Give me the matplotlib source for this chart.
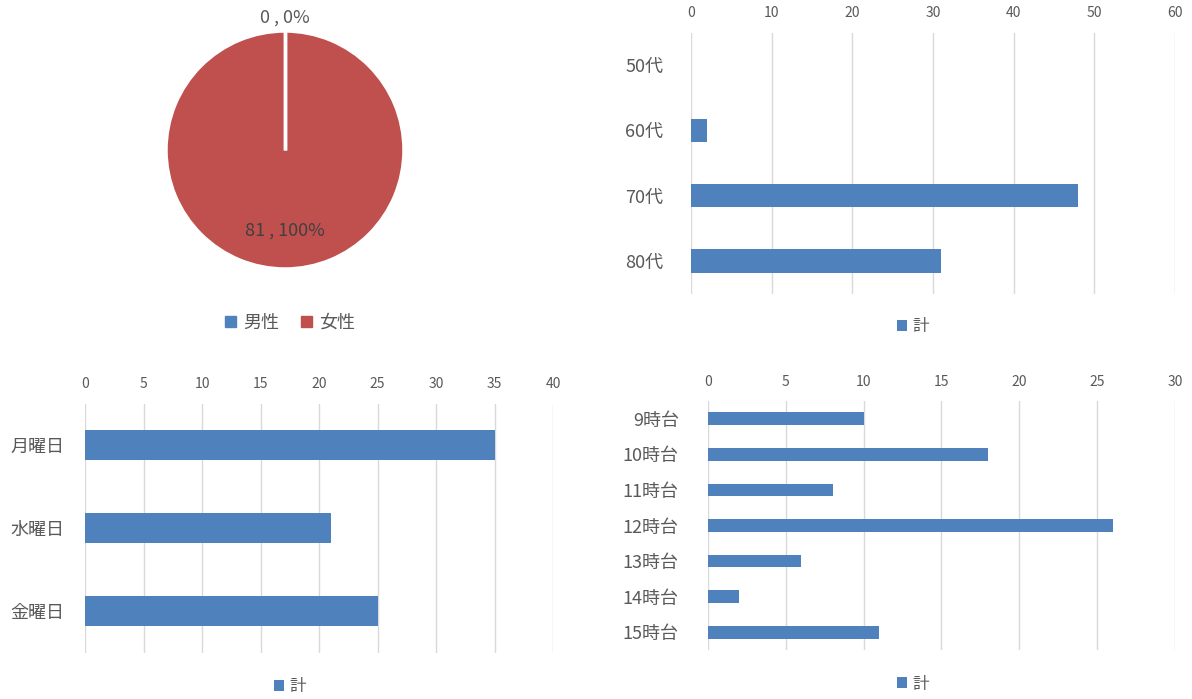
import numpy as np
import matplotlib.pyplot as plt

plt.rcParams['font.family'] = ['Noto Sans CJK JP', 'DejaVu Sans']

# data
gender_labels = ['男性', '女性']
gender_counts = [0, 81]

age_labels = ['50代', '60代', '70代', '80代']
age_counts = [0, 2, 48, 31]

day_labels = ['月曜日', '水曜日', '金曜日']
day_counts = [35, 21, 25]

hour_labels = ['9時台', '10時台', '11時台', '12時台', '13時台', '14時台', '15時台']
hour_counts = [10, 18, 8, 26, 6, 2, 11]

BLUE = '#4F81BD'
RED = '#C0504D'
GRID = '#D9D9D9'
TXT = '#595959'

fig = plt.figure(figsize=(11.92, 6.99), dpi=100)

#pie
start = 90
ax = fig.add_axes([166/1192, 1-269/699, 238/1192, 238/699])
ax.pie(gender_counts, colors=[BLUE, RED], startangle=start, counterclock=False,
       radius=1, wedgeprops=dict(edgecolor='white', linewidth=2.5))
# slice borders (a 360 deg wedge has no visible radial edge)
total = sum(gender_counts)
ang = start
for v in gender_counts:
    a = np.deg2rad(ang)
    ax.plot([0, np.cos(a)], [0, np.sin(a)], color='white', linewidth=2.5,
            solid_capstyle='butt', zorder=5)
    ang -= 360 * v / total
ax.set_xlim(-1, 1)
ax.set_ylim(-1, 1)
ax.set_aspect('equal')
pct = [round(v * 100 / total) for v in gender_counts]
ax.text(0, 1.11, f'{gender_counts[0]} , {pct[0]}%', ha='center', va='center',
        fontsize=13, color=TXT, clip_on=False)
ax.text(0, -0.68, f'{gender_counts[1]} , {pct[1]}%', ha='center', va='center',
        fontsize=13, color='#404040')
handles = [plt.Rectangle((0, 0), 1, 1, color=c) for c in [BLUE, RED]]
ax.legend(handles, gender_labels, loc='center', bbox_to_anchor=(290/1192, 1-323/699),
          bbox_transform=fig.transFigure, ncol=2, frameon=False, fontsize=13,
          handlelength=0.6, handleheight=0.6, handletextpad=0.4, columnspacing=1.2,
          labelcolor=TXT)


def bar_panel(rect, labels, values, xmax, step, legend_pos, pad_y):
    ax = fig.add_axes(rect)
    ypos = list(range(len(labels)))
    ax.barh(ypos, values, height=0.36, color=BLUE, zorder=3, label='計')
    ax.set_xlim(0, xmax)
    ax.set_ylim(len(labels) - 0.5, -0.5)
    ax.set_xticks(range(0, xmax + 1, step))
    ax.set_yticks(ypos)
    ax.set_yticklabels(labels)
    ax.xaxis.tick_top()
    ax.tick_params(axis='x', length=0, pad=9, labelsize=10, labelcolor=TXT)
    ax.tick_params(axis='y', length=0, pad=pad_y, labelsize=13, labelcolor=TXT)
    ax.grid(axis='x', color=GRID, linewidth=1, zorder=0)
    for s in ax.spines.values():
        s.set_visible(False)
    ax.legend(loc='center', bbox_to_anchor=legend_pos, bbox_transform=fig.transFigure,
              frameon=False, fontsize=12, handlelength=0.6, handleheight=0.6,
              handletextpad=0.3, labelcolor=TXT)
    return ax


bar_panel([691/1192, 1-293.5/699, 484/1192, 261/699], age_labels, age_counts, 60, 10,
          (913/1192, 1-327/699), 20)
bar_panel([85/1192, 1-652.5/699, 468/1192, 249/699], day_labels, day_counts, 40, 5,
          (290/1192, 1-687/699), 15)
bar_panel([708/1192, 1-650/699, 467/1192, 249/699], hour_labels, hour_counts, 30, 5,
          (913/1192, 1-684/699), 21)

plt.savefig('out.png', dpi=100)
